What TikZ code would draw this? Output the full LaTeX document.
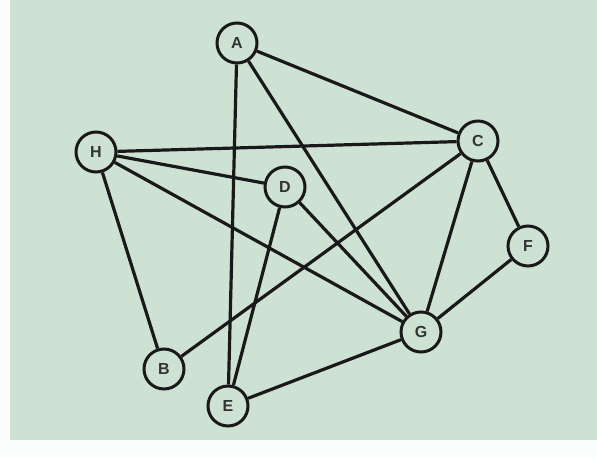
\documentclass[tikz,border=0pt]{standalone}
\usepackage{fontspec}
\setmainfont{Liberation Sans}
\begin{document}
\begin{tikzpicture}[x=1pt,y=-1pt,
  vertex/.style={circle,draw=black!90,line width=3pt,fill=bgc,minimum size=40pt,inner sep=0pt,
    font=\fontsize{16}{16}\selectfont\bfseries,text=black!80},
  edge/.style={draw=black!90,line width=3.2pt}]
\definecolor{bgc}{RGB}{206,226,212}
\fill[bgc] (0,0) rectangle (597,458);
\fill[white!92!bgc] (0,0) rectangle (10,458);
\fill[white!92!bgc] (0,440) rectangle (597,458);
\useasboundingbox (0,0) rectangle (597,458);
\node[vertex] (A) at (237,43) {A};
\node[vertex] (C) at (478,141) {C};
\node[vertex] (H) at (96,152) {H};
\node[vertex] (D) at (285,187) {D};
\node[vertex] (F) at (528,246) {F};
\node[vertex] (G) at (421,332) {G};
\node[vertex] (B) at (164,369) {B};
\node[vertex] (E) at (228,406) {E};
\foreach \u/\v in {A/C,A/E,A/G,H/C,H/D,H/G,H/B,D/G,D/E,C/B,C/G,C/F,F/G,G/E}
  \draw[edge] (\u) -- (\v);
\end{tikzpicture}
\end{document}
